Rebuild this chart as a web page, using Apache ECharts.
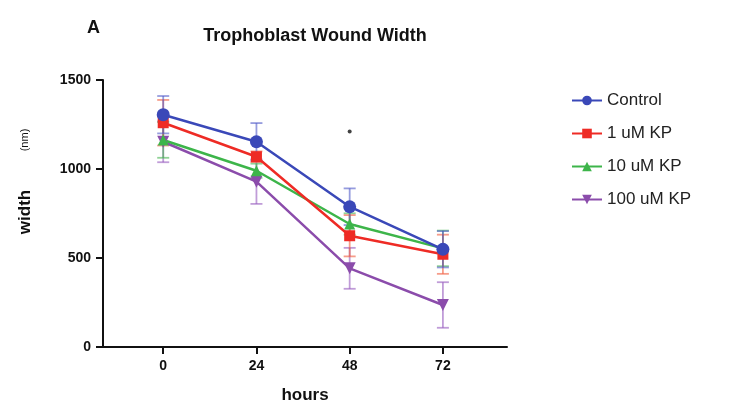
<!DOCTYPE html>
<html><head><meta charset="utf-8">
<script src="https://cdn.jsdelivr.net/npm/echarts@6/dist/echarts.min.js"></script>
<style>html,body{margin:0;padding:0;background:#fff}#c{width:732px;height:413px}</style>
</head><body><div id="c"></div>
<script>
var hours = [0, 24, 48, 72];
var tickLabels = ['0', '24', '48', '72'];
var seriesNames = ['Control', '1 uM KP', '10 uM KP', '100 uM KP'];
var control = [1305, 1153, 788, 549];
var controlErr = [105, 105, 103, 102];
var kp1 = [1260, 1069, 625, 521];
var kp1Err = [128, 30, 116, 110];
var kp10 = [1163, 990, 691, 554];
var kp10Err = [100, 40, 60, 100];
var kp100 = [1153, 929, 442, 236];
var kp100Err = [115, 125, 115, 128];
var sigMark = [[48, 1210]];

var colors = ['#3A48B8', '#EE2B25', '#3DB54A', '#8B4CAB'];
var errColors = ['rgba(80,90,200,0.6)', 'rgba(240,90,60,0.6)', 'rgba(70,180,80,0.6)', 'rgba(150,90,190,0.6)'];
var symbols = ['circle', 'rect', 'triangle', 'triangle'];
var symbolSizes = [13, 11, 11, 12];
var rotates = [0, 0, 0, 180];
var means = [control, kp1, kp10, kp100];
var errs = [controlErr, kp1Err, kp10Err, kp100Err];

var font = '"Liberation Sans", Arial, Helvetica, sans-serif';
var chart = echarts.init(document.getElementById('c'));

function errSeries(i) {
  return {
    type: 'custom', silent: true, z: 1,
    data: hours.map(function (h, k) { return [h, means[i][k] - errs[i][k], means[i][k] + errs[i][k]]; }),
    renderItem: function (params, api) {
      var lo = api.coord([api.value(0), api.value(1)]);
      var hi = api.coord([api.value(0), api.value(2)]);
      var w = 6;
      var st = { stroke: errColors[i], lineWidth: 1.8 };
      return { type: 'group', children: [
        { type: 'line', shape: { x1: lo[0], y1: lo[1], x2: hi[0], y2: hi[1] }, style: st },
        { type: 'line', shape: { x1: lo[0] - w, y1: lo[1], x2: lo[0] + w, y2: lo[1] }, style: st },
        { type: 'line', shape: { x1: hi[0] - w, y1: hi[1], x2: hi[0] + w, y2: hi[1] }, style: st }
      ]};
    }
  };
}

var series = [];
var order = [3, 2, 1, 0];
order.forEach(function (i) { series.push(errSeries(i)); });
order.forEach(function (i) {
  series.push({
    name: seriesNames[i], type: 'line', z: 3,
    data: hours.map(function (h, k) { return [h, means[i][k]]; }),
    symbol: symbols[i], symbolSize: symbolSizes[i], symbolRotate: rotates[i],
    lineStyle: { color: colors[i], width: 2.5 },
    itemStyle: { color: colors[i] }
  });
});
series.push({
  type: 'scatter', data: sigMark, symbol: 'circle', symbolSize: 4,
  itemStyle: { color: '#111' }, silent: true, z: 4
});

chart.setOption({
  animation: false,
  backgroundColor: '#fff',
  color: colors,
  title: [
    { text: 'Trophoblast Wound Width', left: 310, top: 22, textAlign: 'center',
      textStyle: { fontFamily: font, fontWeight: 'bold', fontSize: 18, color: '#111' } },
    { text: 'A', left: 82, top: 14,
      textStyle: { fontFamily: font, fontWeight: 'bold', fontSize: 18, color: '#111' } }
  ],
  legend: {
    data: seriesNames, orient: 'vertical', left: 566, top: 87,
    itemWidth: 30, itemHeight: 12, itemGap: 16,
    textStyle: { fontFamily: font, fontSize: 17, color: '#222' }
  },
  grid: { left: 103, right: 225, top: 80, bottom: 66 },
  xAxis: {
    type: 'value', min: -15.5, max: 88.5,
    name: 'hours', nameLocation: 'middle', nameGap: 40,
    nameTextStyle: { fontFamily: font, fontWeight: 'bold', fontSize: 17, color: '#111' },
    axisLine: { onZero: false, lineStyle: { color: '#111', width: 2 } },
    axisTick: { show: true, customValues: hours, length: 7, lineStyle: { width: 2, color: '#111' } },
    axisLabel: { customValues: hours, margin: 12, fontFamily: font, fontWeight: 'bold', fontSize: 14, color: '#111',
      formatter: function (v) { var k = hours.indexOf(v); return k >= 0 ? tickLabels[k] : ''; } },
    splitLine: { show: false }
  },
  yAxis: {
    type: 'value', min: 0, max: 1500, interval: 500,
    axisLine: { show: true, onZero: false, lineStyle: { color: '#111', width: 2 } },
    axisTick: { show: true, inside: false, length: 7, lineStyle: { width: 2, color: '#111' } },
    axisLabel: { margin: 12, fontFamily: font, fontWeight: 'bold', fontSize: 14, color: '#111',
      formatter: function (v) { return String(v); } },
    splitLine: { show: false }
  },
  graphic: [
    { type: 'text', x: 25, y: 212, rotation: Math.PI / 2,
      style: { text: 'width', font: 'bold 17px ' + font, fill: '#111', textAlign: 'center', textVerticalAlign: 'middle' } },
    { type: 'text', x: 25, y: 140, rotation: Math.PI / 2,
      style: { text: '(nm)', font: '11px ' + font, fill: '#111', textAlign: 'center', textVerticalAlign: 'middle' } }
  ],
  series: series
});
</script></body></html>
